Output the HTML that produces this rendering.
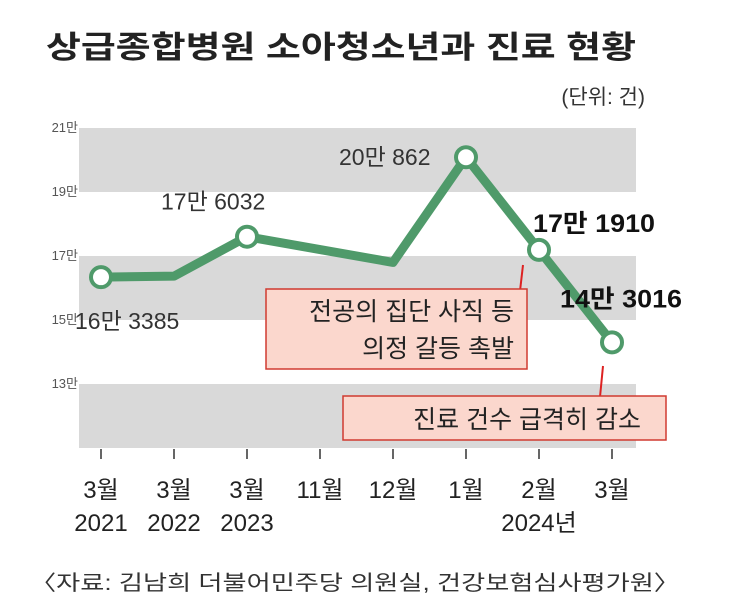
<!DOCTYPE html>
<html><head><meta charset="utf-8">
<style>
body{margin:0;background:#fff;}
svg{display:block;font-family:"Liberation Sans","Noto Sans CJK KR",sans-serif;}
</style></head>
<body>
<svg width="730" height="613" viewBox="0 0 730 613">
<text x="46" y="58" font-size="31" font-weight="bold" fill="#222" textLength="590" lengthAdjust="spacingAndGlyphs">상급종합병원 소아청소년과 진료 현황</text>
<text x="645" y="104" font-size="21" fill="#333" text-anchor="end">(단위: 건)</text>
<g id="bands"></g>
<g id="yticks"></g>
<g id="xticks"></g>
<path id="line" fill="none" stroke="#4f9a6a" stroke-width="9" stroke-linejoin="round"/>
<g id="points"></g>
<g id="labels" font-size="23" fill="#333"></g>
<line x1="523" y1="265" x2="520" y2="291" stroke="#d22" stroke-width="2"/>
<line x1="603" y1="366" x2="600" y2="397" stroke="#d22" stroke-width="2"/>
<g>
<rect x="266" y="289" width="261" height="80" fill="#fbd7cd" stroke="#d03a30" stroke-width="1.5"/>
<text x="514" y="320" font-size="25" fill="#222" text-anchor="end">전공의 집단 사직 등</text>
<text x="514" y="357" font-size="25" fill="#222" text-anchor="end">의정 갈등 촉발</text>
</g>
<g>
<rect x="343" y="396" width="323" height="44" fill="#fbd7cd" stroke="#d03a30" stroke-width="1.5"/>
<text x="641" y="428" font-size="25" fill="#222" text-anchor="end">진료 건수 급격히 감소</text>
</g>
<text x="30" y="590" font-size="21" fill="#333" textLength="650" lengthAdjust="spacingAndGlyphs">〈자료: 김남희 더불어민주당 의원실, 건강보험심사평가원〉</text>
</svg>
<script>
const categories=["3월|2021","3월|2022","3월|2023","11월","12월","1월","2월|2024년","3월"];
const values=[16.3385,16.37,17.6032,17.2,16.8,20.0862,17.1910,14.3016];
const labelTexts=["16만 3385",null,"17만 6032",null,null,"20만 862","17만 1910","14만 3016"];
const yTicks=[21,19,17,15,13];
const yTickLabels=["21만","19만","17만","15만","13만"];
const NS="http://www.w3.org/2000/svg";
const x0=101,dx=73;
function xs(i){return x0+i*dx;}
function ys(v){return 128+(21-v)*32;}
function mk(t,a,p){const e=document.createElementNS(NS,t);for(const k in a)e.setAttribute(k,a[k]);p.appendChild(e);return e;}
const bands=document.getElementById('bands');
[21,17,13].forEach(v=>{
const r=mk('rect',{x:79,y:ys(v),width:557,height:ys(v-2)-ys(v),fill:'#d9d9d9'},bands);


});
const yt=document.getElementById('yticks');
yTicks.forEach((v,i)=>{
const t=mk('text',{x:78,y:ys(v)+4,'font-size':13,fill:'#555','text-anchor':'end'},yt);
t.textContent=yTickLabels[i];


});
const xt=document.getElementById('xticks');
categories.forEach((c,i)=>{
const l=mk('line',{x1:xs(i),y1:449,x2:xs(i),y2:459,stroke:'#333','stroke-width':1.5},xt);


c.split('|').forEach((s,j)=>{
const t=mk('text',{x:xs(i),y:498+j*33,'font-size':24,fill:'#222','text-anchor':'middle'},xt);
t.textContent=s;


});
});
let d='';values.forEach((v,i)=>{d+=(i?'L':'M')+xs(i)+' '+ys(v);});
document.getElementById('line').setAttribute('d',d);
const pts=document.getElementById('points'),lab=document.getElementById('labels');
const off=[[-26,52],null,[-86,-27],null,null,[-127,8],[-6,-18],[-52,-35]];
values.forEach((v,i)=>{
if(labelTexts[i]===null)return;
const c=mk('circle',{cx:xs(i),cy:ys(v),r:10,fill:'#fff',stroke:'#4f9a6a','stroke-width':4},pts);


const bold=i>=6;
const a={x:xs(i)+off[i][0],y:ys(v)+off[i][1],'font-weight':bold?'bold':'normal',fill:bold?'#111':'#333'};
if(bold){a.textLength=122;a.lengthAdjust='spacingAndGlyphs';a['font-size']=25;}
const t=mk('text',a,lab);
t.textContent=labelTexts[i];


});
</script>
</body></html>
